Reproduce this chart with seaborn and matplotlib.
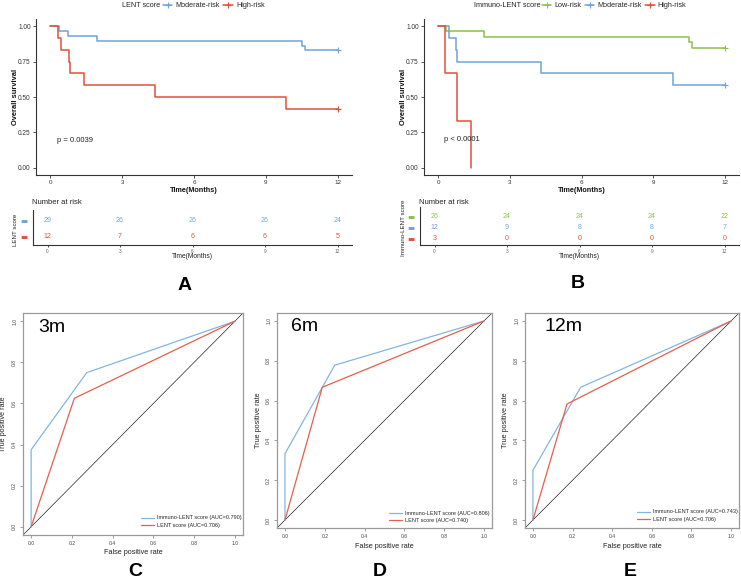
import numpy as np
import pandas as pd
import matplotlib
matplotlib.use("Agg")
import matplotlib.pyplot as plt
import seaborn as sns
from matplotlib.lines import Line2D

# ---------------- data ----------------
months = [0, 3, 6, 9, 12]

# Panel A: LENT score KM
a_mod_t = [0, 0.35, 0.74, 1.95, 10.53, 10.64, 12]
a_mod_s = [1.0, 0.966, 0.931, 0.897, 0.862, 0.828, 0.828]
a_high_t = [0, 0.31, 0.45, 0.76, 0.81, 1.39, 4.35, 9.83, 12]
a_high_s = [1.0, 0.917, 0.833, 0.75, 0.667, 0.583, 0.5, 0.417, 0.417]
a_risk_mod = [29, 26, 26, 26, 24]
a_risk_high = [12, 7, 6, 6, 5]
a_labels = ["Moderate-risk", "High-risk"]
a_pval = "p = 0.0039"

# Panel B: Immuno-LENT score KM
b_low_t = [0, 0.32, 1.92, 10.52, 10.62, 12]
b_low_s = [1.0, 0.962, 0.923, 0.885, 0.846, 0.846]
b_mod_t = [0, 0.45, 0.74, 0.77, 4.32, 9.83, 12]
b_mod_s = [1.0, 0.917, 0.833, 0.75, 0.667, 0.583, 0.583]
b_high_t = [0, 0.28, 0.79, 1.39]
b_high_s = [1.0, 0.667, 0.333, 0.0]
b_risk_low = [26, 24, 24, 24, 22]
b_risk_mod = [12, 9, 8, 8, 7]
b_risk_high = [3, 0, 0, 0, 0]
b_labels = ["Low-risk", "Moderate-risk", "High-risk"]
b_pval = "p < 0.0001"

# ROC panels
roc_titles = ["3m", "6m", "12m"]
immuno_fpr = [[0, 0, 0.273, 1], [0, 0, 0.25, 1], [0, 0, 0.241, 1]]
immuno_tpr = [[0, 0.375, 0.75, 1], [0, 0.333, 0.778, 1], [0, 0.25, 0.667, 1]]
lent_fpr = [[0, 0.212, 1], [0, 0.1875, 1], [0, 0.172, 1]]
lent_tpr = [[0, 0.625, 1], [0, 0.667, 1], [0, 0.583, 1]]
immuno_auc = ["0.790", "0.806", "0.743"]
lent_auc = ["0.706", "0.740", "0.706"]
panel_letters = ["A", "B", "C", "D", "E"]

# ---------------- style ----------------
W, H = 741, 581
sns.set_theme(style="ticks")
plt.rcParams["font.family"] = ["Liberation Sans", "DejaVu Sans"]
BLUE = "#6FA3DC"
RED = "#E3503A"
GREEN = "#8DBF4E"
ROC_BLUE = "#83B5E3"
ROC_RED = "#E6604B"
AX = "#333333"

fig = plt.figure(figsize=(W / 100, H / 100), dpi=100)
fig.patch.set_facecolor("white")


def add_ax(l, t, r, b):
    return fig.add_axes([l / W, 1 - b / H, (r - l) / W, (b - t) / H])


def fx(x):
    return x / W


def fy(y):
    return 1 - y / H


def style_classic(ax):
    ax.set_facecolor("white")
    for s in ["top", "right"]:
        ax.spines[s].set_visible(False)
    for s in ["left", "bottom"]:
        ax.spines[s].set_color(AX)
        ax.spines[s].set_linewidth(0.8)
    ax.tick_params(colors=AX, width=0.6, length=2.2, pad=1.5)


def km_panel(box, curves, colors, labels, title, pval, pv_xy, xlab_y, ylab_x,
             legend_title_x, legend_x):
    ax = add_ax(*box)
    style_classic(ax)
    for (t, s), c in zip(curves, colors):
        df = pd.DataFrame({"t": t, "s": s})
        sns.lineplot(data=df, x="t", y="s", drawstyle="steps-post", color=c,
                     lw=1.1, estimator=None, sort=False, ax=ax, legend=False)
        if s[-1] > 0:
            ax.plot([t[-1]], [s[-1]], marker="+", color=c, ms=4, mew=0.8)
    ax.set_xlim(-0.6, 12.6)
    ax.set_ylim(-0.05, 1.05)
    ax.set_xticks(months)
    ax.set_xticklabels([str(m) for m in months], fontsize=4.5, color=AX)
    ax.set_yticks([0, 0.25, 0.5, 0.75, 1.0])
    ax.set_yticklabels(["0.00", "0.25", "0.50", "0.75", "1.00"], fontsize=4.7, color=AX)
    ax.set_xlabel("Time(Months)", fontsize=5.2, fontweight="bold", color="#111111")
    ax.set_ylabel("Overall survival", fontsize=5.4, fontweight="bold", color="#111111")
    ax.xaxis.set_label_coords(fx((box[0] + box[2]) / 2), fy(xlab_y), transform=fig.transFigure)
    ax.yaxis.set_label_coords(fx(ylab_x), fy((box[1] + box[3]) / 2), transform=fig.transFigure)
    ax.text(pv_xy[0], pv_xy[1], pval, fontsize=5.5, color="#222222", ha="left", va="center")
    # legend
    fig.text(fx(legend_title_x), fy(5.5), title, fontsize=5.2, color="#222222",
             ha="left", va="center")
    handles = [Line2D([], [], color=c, lw=1.1, marker="+", ms=4, mew=0.8) for c in colors]
    ax.legend(handles, labels, loc="center left", bbox_to_anchor=(fx(legend_x), fy(5.5)),
              bbox_transform=fig.transFigure, ncol=len(labels), frameon=False,
              fontsize=5.2, handlelength=1.3, handletextpad=0.45, columnspacing=0.45,
              borderpad=0, borderaxespad=0)
    return ax


def risk_panel(box, rows, colors, ylim, ytitle, ylab_x):
    ax = add_ax(*box)
    style_classic(ax)
    ax.set_xlim(-0.6, 12.6)
    ax.set_ylim(*ylim)
    for i, (vals, c) in enumerate(zip(rows, colors)):
        for m, v in zip(months, vals):
            ax.text(m, i, str(v), color=c, fontsize=5, ha="center", va="center")
    ax.set_xticks(months)
    ax.set_xticklabels([str(m) for m in months], fontsize=3.4, color="#666666")
    ax.tick_params(axis="x", length=1.5, pad=1.2)
    ax.set_yticks(range(len(rows)))
    ax.set_yticklabels(["\u25AC"] * len(rows), fontsize=5.5)
    for lab, c in zip(ax.get_yticklabels(), colors):
        lab.set_color(c)
        lab.set_family(["DejaVu Sans"])
    ax.tick_params(axis="y", length=0, pad=4.0)
    ax.set_xlabel("Time(Months)", fontsize=4.8, color="#222222")
    ax.xaxis.set_label_coords(fx((box[0] + box[2]) / 2), fy(253.5), transform=fig.transFigure)
    ax.set_ylabel(ytitle, fontsize=4.4, color="#222222")
    ax.yaxis.set_label_coords(fx(ylab_x), fy((box[1] + box[3]) / 2 + 2), transform=fig.transFigure)
    fig.text(fx(box[0] - 1), fy(203), "Number at risk", fontsize=5.5, color="#222222",
             ha="left", va="center")
    return ax


# Panel A
km_panel((36, 19, 352, 175),
         [(a_mod_t, a_mod_s), (a_high_t, a_high_s)], [BLUE, RED], a_labels,
         "LENT score", a_pval, (0.29, 0.19), 186.5, 19, 122, 163)
risk_panel((33, 210, 352, 245), [a_risk_mod, a_risk_high], [BLUE, RED],
           (1.5625, -0.625), "LENT score", 18)

# Panel B
km_panel((424, 19, 739, 175),
         [(b_low_t, b_low_s), (b_mod_t, b_mod_s), (b_high_t, b_high_s)],
         [GREEN, BLUE, RED], b_labels,
         "Immuno-LENT score", b_pval, (0.25, 0.2), 186.5, 407, 474, 542)
risk_panel((420, 207, 739, 245), [b_risk_low, b_risk_mod, b_risk_high],
           [GREEN, BLUE, RED], (2.54, -0.87), "Immuno-LENT score", 406)

# ROC panels
roc_boxes = [(23, 313, 243, 535), (277, 313, 492, 528), (525, 313, 739, 528)]
roc_ylab_x = [7.5, 262, 509]
roc_xlab_y = [549, 543, 543]
roc_leg_lr = [(242, 528), (490, 523), (738, 522)]
roc_title_x = [0.068, 0.064, 0.093]
for k in range(3):
    box = roc_boxes[k]
    ax = add_ax(*box)
    ax.set_facecolor("white")
    for s in ax.spines.values():
        s.set_visible(True)
        s.set_color("#9a9a9a")
        s.set_linewidth(0.9)
    ax.axline((0, 0), (1, 1), color="#222222", lw=0.5)
    sns.lineplot(x=immuno_fpr[k], y=immuno_tpr[k], sort=False, estimator=None,
                 color=ROC_BLUE, lw=0.9, ax=ax,
                 label=f"Immuno-LENT score (AUC={immuno_auc[k]})")
    sns.lineplot(x=lent_fpr[k], y=lent_tpr[k], sort=False, estimator=None,
                 color=ROC_RED, lw=0.9, ax=ax,
                 label=f"LENT score (AUC={lent_auc[k]})")
    ax.set_xlim(-0.04, 1.04)
    ax.set_ylim(-0.04, 1.04)
    ticks = [0, 0.2, 0.4, 0.6, 0.8, 1.0]
    tl = ["0.0", "0.2", "0.4", "0.6", "0.8", "1.0"]
    ax.set_xticks(ticks)
    ax.set_xticklabels(tl, fontsize=3.6, color="#444444")
    ax.set_yticks(ticks)
    ax.set_yticklabels(tl, fontsize=3.6, color="#444444", rotation=90, va="center")
    ax.tick_params(colors="#777777", width=0.5, length=2.2, pad=2.0, labelcolor="#444444")
    ax.set_xlabel("False positive rate", fontsize=5.2, color="#222222")
    ax.set_ylabel("True positive rate", fontsize=5.2, color="#222222")
    ax.xaxis.set_label_coords(fx((box[0] + box[2]) / 2), fy(roc_xlab_y[k]), transform=fig.transFigure)
    ax.yaxis.set_label_coords(fx(roc_ylab_x[k]), fy((box[1] + box[3]) / 2), transform=fig.transFigure)
    ax.text(roc_title_x[k], 0.935, roc_titles[k], transform=ax.transAxes,
            fontsize=14, ha="left", va="center", color="black")
    lx, ly = roc_leg_lr[k]
    ax.legend(loc="lower right", bbox_to_anchor=(fx(lx), fy(ly)),
              bbox_transform=fig.transFigure, frameon=False, fontsize=4.0,
              handlelength=2.3, handletextpad=0.6, labelspacing=0.45,
              borderpad=0, borderaxespad=0)

# panel letters
letter_pos = [(185, 285), (578, 283), (135, 572), (380, 571), (630, 572)]
for letter, (x, y) in zip(panel_letters, letter_pos):
    fig.text(fx(x), fy(y), letter, fontsize=14, fontweight="bold",
             ha="center", va="center", color="black")

fig.savefig("out.png", dpi=100, facecolor="white")
